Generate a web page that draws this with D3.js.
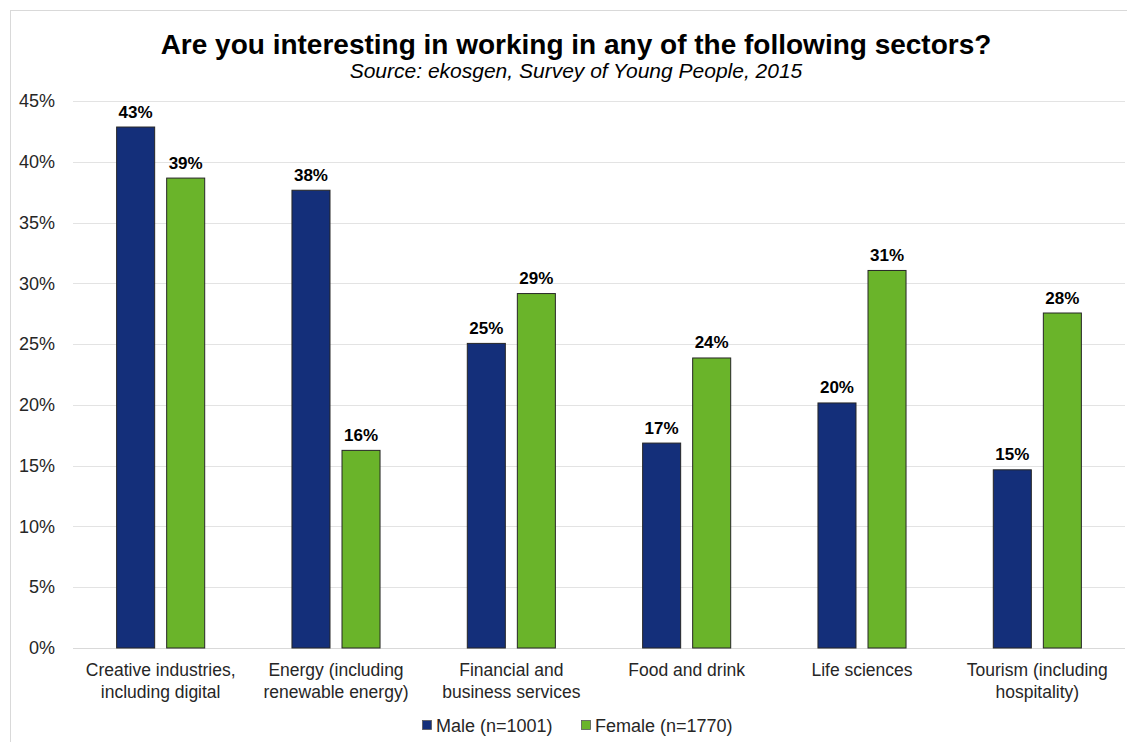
<!DOCTYPE html>
<html>
<head>
<meta charset="utf-8">
<script src="https://cdn.jsdelivr.net/npm/d3@7/dist/d3.min.js"></script>
<style>
  html, body { margin: 0; padding: 0; background: #fff; }
  svg { display: block; font-family: "Liberation Sans", Arial, sans-serif; }
</style>
</head>
<body>
<svg id="chart" width="1127" height="742"></svg>
<script>
// Sectors on the x axis (each label split over two lines)
const categories = [
  ["Creative industries,", "including digital"],
  ["Energy (including", "renewable energy)"],
  ["Financial and", "business services"],
  ["Food and drink"],
  ["Life sciences"],
  ["Tourism (including", "hospitality)"]
];
const seriesNames = ["Male (n=1001)", "Female (n=1770)"];
const maleValues   = [0.429, 0.377, 0.251, 0.169, 0.202, 0.147];
const femaleValues = [0.387, 0.163, 0.292, 0.239, 0.311, 0.276];
const yTicks = [0, 0.05, 0.10, 0.15, 0.20, 0.25, 0.30, 0.35, 0.40, 0.45];
const seriesColors = ["#142f7a", "#6ab42a"];

const svg = d3.select("#chart");
const W = 1127, H = 742;
const margin = { left: 73, right: 2, top: 101, bottom: 94 };

// outer frame
svg.append("rect")
  .attr("x", 10.5).attr("y", 10.5)
  .attr("width", W + 20).attr("height", H + 20)
  .attr("fill", "#fff").attr("stroke", "#d9d9d9");

const catKeys = categories.map(c => c.join(" "));
const x0 = d3.scaleBand()
  .domain(catKeys)
  .range([margin.left, W - margin.right])
  .paddingInner(0.492)
  .paddingOuter(0.246);
const x1 = d3.scaleBand()
  .domain(seriesNames)
  .range([0, x0.bandwidth()])
  .paddingInner(0.22);
const y = d3.scaleLinear()
  .domain([0, 0.45])
  .range([H - margin.bottom, margin.top]);

// gridlines
svg.append("g")
  .selectAll("line")
  .data(yTicks)
  .join("line")
  .attr("x1", margin.left).attr("x2", W - margin.right)
  .attr("y1", d => Math.round(y(d)) + 0.5).attr("y2", d => Math.round(y(d)) + 0.5)
  .attr("stroke", d => d === 0 ? "#d9d9d9" : "#e3e3e3")
  .attr("stroke-width", 1);

// y axis labels
const yAxis = d3.axisLeft(y)
  .tickValues(yTicks)
  .tickFormat(d3.format(".0%"))
  .tickSize(0)
  .tickPadding(18);
const ya = svg.append("g")
  .attr("transform", `translate(${margin.left},0)`)
  .call(yAxis);
ya.select(".domain").remove();
ya.selectAll("text")
  .attr("font-size", 18)
  .attr("fill", "#262626")
  .attr("font-family", "Liberation Sans, Arial, sans-serif");

// bars
const rows = catKeys.map((k, i) => ({
  key: k,
  values: [
    { name: seriesNames[0], v: maleValues[i], color: seriesColors[0] },
    { name: seriesNames[1], v: femaleValues[i], color: seriesColors[1] }
  ]
}));

const groups = svg.append("g")
  .selectAll("g")
  .data(rows)
  .join("g")
  .attr("transform", d => `translate(${x0(d.key)},0)`);

groups.selectAll("rect")
  .data(d => d.values)
  .join("rect")
  .attr("x", d => x1(d.name) + 0.5)
  .attr("y", d => y(d.v) + 0.5)
  .attr("width", x1.bandwidth() - 1)
  .attr("height", d => y(0) - y(d.v) - 0.5)
  .attr("fill", d => d.color)
  .attr("stroke", "#262626")
  .attr("stroke-width", 1);

// value labels
groups.selectAll("text")
  .data(d => d.values)
  .join("text")
  .attr("x", d => x1(d.name) + x1.bandwidth() / 2)
  .attr("y", d => y(d.v) - 9)
  .attr("text-anchor", "middle")
  .attr("font-size", 17)
  .attr("font-weight", "bold")
  .attr("fill", "#000")
  .text(d => d3.format(".0%")(d.v));

// category labels
const catLabels = svg.append("g")
  .selectAll("text")
  .data(categories)
  .join("text")
  .attr("x", (d, i) => x0(catKeys[i]) + x0.bandwidth() / 2)
  .attr("y", H - margin.bottom + 28)
  .attr("text-anchor", "middle")
  .attr("font-size", 17.5)
  .attr("fill", "#262626");
catLabels.selectAll("tspan")
  .data(d => d)
  .join("tspan")
  .attr("x", function () { return d3.select(this.parentNode).attr("x"); })
  .attr("dy", (d, i) => i === 0 ? 0 : 22)
  .text(d => d);

// title & subtitle
svg.append("text")
  .attr("x", 576).attr("y", 54)
  .attr("text-anchor", "middle")
  .attr("font-size", 28)
  .attr("font-weight", "bold")
  .attr("fill", "#000")
  .text("Are you interesting in working in any of the following sectors?");
svg.append("text")
  .attr("x", 576).attr("y", 78)
  .attr("text-anchor", "middle")
  .attr("font-size", 21)
  .attr("font-style", "italic")
  .attr("fill", "#000")
  .text("Source: ekosgen, Survey of Young People, 2015");

// legend
const legendX = [422, 581];
const legend = svg.append("g")
  .selectAll("g")
  .data(seriesNames)
  .join("g")
  .attr("transform", (d, i) => `translate(${legendX[i]},720)`);
legend.append("rect")
  .attr("x", 0.5).attr("y", 0.5)
  .attr("width", 9).attr("height", 9)
  .attr("fill", (d, i) => seriesColors[i])
  .attr("stroke", "#595959")
  .attr("stroke-width", 0.8);
legend.append("text")
  .attr("x", 14).attr("y", 11.5)
  .attr("font-size", 18)
  .attr("fill", "#262626")
  .text(d => d);
</script>
</body>
</html>
